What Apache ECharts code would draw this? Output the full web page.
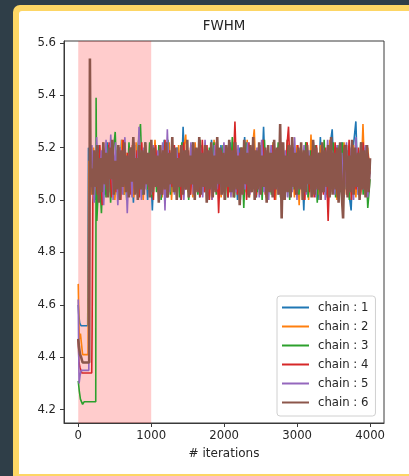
<!DOCTYPE html>
<html>
<head>
<meta charset="utf-8">
<script src="https://cdn.jsdelivr.net/npm/echarts@6/dist/echarts.min.js"></script>
<style>
  html, body { margin: 0; padding: 0; width: 409px; height: 476px; overflow: hidden; background: #2f3e48; }
  #chart { position: absolute; left: 0; top: 0; width: 409px; height: 476px; }
</style>
</head>
<body>
<div id="chart"></div>
<script>
// MCMC trace of the FWHM parameter, six chains, 4000 iterations each.
const chainNames = ['chain : 1', 'chain : 2', 'chain : 3', 'chain : 4', 'chain : 5', 'chain : 6'];
const chainColors = ['#1f77b4', '#ff7f0e', '#2ca02c', '#d62728', '#9467bd', '#8c564b'];
const burnInEnd = 1000;
const lastIteration = 3999;
const xTicks = [0, 1000, 2000, 3000, 4000];
const yTicks = [4.2, 4.4, 4.6, 4.8, 5.0, 5.2, 5.4, 5.6];

// Early walk of each chain: [iteration, value]
const burn1 = [[0, 4.60], [8, 4.56], [20, 4.53], [40, 4.52], [130, 4.52]];
const burn2 = [[0, 4.68], [8, 4.55], [15, 4.47], [30, 4.49], [45, 4.45], [60, 4.41], [135, 4.41]];
const burn3 = [[0, 4.31], [15, 4.27], [30, 4.24], [60, 4.22], [80, 4.23], [240, 4.23], [245, 5.39]];
const burn4 = [[0, 4.47], [10, 4.38], [25, 4.36], [50, 4.34], [185, 4.34], [190, 4.50]];
const burn5 = [[0, 4.62], [5, 4.45], [12, 4.30], [25, 4.33], [40, 4.35], [145, 4.35]];
const burn6 = [[0, 4.47], [10, 4.44], [25, 4.41], [40, 4.40], [60, 4.38], [150, 4.38], [160, 5.54], [170, 5.05]];

// Iteration where each thinned trace below begins (it runs on to the last iteration)
const traceStart = [140, 145, 255, 200, 155, 180];

// Thinned traces, evenly spaced over [traceStart, lastIteration]
const trace1 = [
  5.20, 5.03, 5.17, 5.00, 5.21, 5.05, 5.18, 5.02, 5.22, 5.04,
  5.19, 5.01, 5.16, 5.04, 5.23, 5.02, 5.18, 5.06, 5.20, 4.99,
  5.21, 5.03, 5.17, 5.05, 5.22, 5.00, 5.19, 4.96, 5.20, 5.04,
  5.18, 5.02, 5.23, 5.01, 5.17, 5.05, 5.21, 5.03, 5.19, 5.00,
  5.28, 5.04, 5.18, 5.02, 5.22, 5.06, 5.19, 5.01, 5.21, 5.03,
  5.17, 5.00, 5.23, 5.04, 5.19, 5.02, 5.21, 5.05, 5.18, 5.01,
  5.22, 5.03, 5.16, 5.00, 5.20, 5.04, 5.24, 5.02, 5.18, 5.05,
  5.21, 5.01, 5.19, 5.03, 5.28, 5.02, 5.17, 5.04, 5.22, 5.00,
  5.20, 5.05, 5.18, 5.02, 5.23, 5.01, 5.19, 5.04, 5.21, 5.03,
  5.17, 4.96, 5.22, 5.02, 5.19, 5.05, 5.21, 5.00, 5.24, 5.03,
  5.18, 5.01, 5.20, 5.27, 5.04, 5.19, 5.02, 5.22, 5.05, 5.17,
  5.03, 4.96, 5.21, 5.30, 5.02, 5.19, 5.04, 5.20, 5.01, 5.14
];
const trace2 = [
  5.15, 5.02, 5.20, 5.04, 5.18, 5.01, 5.22, 5.05, 5.17, 5.03,
  5.21, 5.00, 5.19, 5.04, 5.23, 5.02, 5.18, 5.05, 5.20, 5.01,
  5.22, 5.03, 5.17, 5.00, 5.21, 5.04, 5.19, 5.02, 5.23, 5.05,
  5.18, 5.01, 5.20, 5.03, 5.22, 5.00, 5.17, 5.04, 5.21, 5.02,
  5.19, 5.25, 5.03, 5.20, 5.01, 5.22, 5.05, 5.18, 5.02, 5.21,
  5.04, 5.17, 5.00, 5.23, 5.03, 5.19, 5.01, 5.21, 5.05, 5.18,
  5.02, 5.22, 5.04, 5.19, 4.99, 5.20, 5.03, 5.23, 5.01, 5.18,
  5.27, 5.02, 5.19, 5.05, 5.21, 5.01, 5.18, 5.03, 5.22, 5.00,
  5.20, 5.04, 5.17, 5.02, 5.23, 5.05, 5.19, 5.01, 5.21, 4.98,
  5.18, 5.03, 5.22, 5.00, 5.25, 5.04, 5.19, 5.02, 5.21, 5.05,
  5.17, 5.01, 5.23, 5.03, 5.20, 5.00, 5.18, 5.04, 5.22, 5.02,
  5.19, 5.05, 5.21, 5.01, 5.18, 5.03, 5.29, 5.02, 5.20, 5.10
];
const trace3 = [
  4.92, 5.12, 4.95, 5.18, 5.01, 5.21, 4.99, 5.17, 5.26, 5.02,
  5.20, 5.04, 5.18, 5.00, 5.22, 5.03, 5.19, 5.05, 5.21, 5.29,
  5.02, 5.18, 5.04, 5.22, 5.01, 5.19, 5.03, 5.21, 5.00, 5.17,
  5.05, 5.23, 5.02, 5.18, 5.04, 5.20, 5.01, 5.22, 5.03, 5.19,
  5.00, 5.21, 5.05, 5.17, 5.02, 5.23, 5.03, 5.19, 5.01, 5.20,
  5.04, 5.22, 5.02, 5.18, 5.05, 5.21, 5.00, 5.19, 5.03, 5.24,
  5.01, 5.18, 5.04, 5.20, 4.97, 5.22, 5.02, 5.19, 5.05, 5.17,
  5.03, 5.21, 5.00, 5.23, 5.04, 5.18, 5.02, 5.20, 5.05, 5.22,
  5.01, 5.19, 5.03, 5.21, 5.00, 5.24, 5.04, 5.18, 5.02, 5.20,
  5.05, 5.22, 5.01, 5.19, 5.03, 5.21, 4.99, 5.18, 5.04, 5.23,
  5.02, 5.20, 5.05, 5.22, 5.01, 5.21, 5.03, 5.22, 5.04, 5.19,
  5.00, 5.21, 5.03, 5.18, 5.05, 5.22, 5.02, 5.20, 4.97, 5.08
];
const trace4 = [
  4.99, 5.18, 5.02, 5.21, 4.98, 5.19, 5.04, 5.22, 5.01, 5.17,
  5.03, 5.20, 5.00, 5.23, 5.05, 5.18, 5.02, 5.21, 5.04, 5.19,
  5.01, 5.22, 5.03, 5.17, 5.05, 5.20, 5.00, 5.21, 5.04, 5.18,
  5.02, 5.23, 5.01, 5.19, 5.05, 5.21, 5.03, 5.18, 5.00, 5.22,
  5.04, 5.19, 5.02, 5.20, 5.05, 5.17, 5.01, 5.23, 5.03, 5.21,
  5.00, 5.18, 5.04, 5.22, 4.95, 5.19, 5.03, 5.21, 5.01, 5.20,
  5.05, 5.30, 5.02, 5.18, 5.04, 5.21, 5.00, 5.22, 5.03, 5.19,
  5.01, 5.20, 5.05, 5.23, 5.02, 5.18, 5.04, 5.21, 5.00, 5.19,
  5.03, 5.22, 5.01, 5.17, 5.28, 5.04, 5.20, 5.02, 5.21, 5.05,
  5.18, 5.00, 5.22, 5.03, 5.19, 5.01, 5.21, 5.04, 5.18, 5.02,
  5.20, 4.92, 5.19, 5.03, 5.22, 5.01, 5.18, 5.05, 5.21, 5.02,
  5.23, 5.00, 5.19, 5.04, 5.20, 5.02, 5.22, 5.05, 5.18, 5.12
];
const trace5 = [
  5.02, 5.21, 4.99, 5.24, 5.01, 5.19, 4.98, 5.23, 5.03, 5.25,
  5.00, 5.22, 4.98, 5.20, 5.02, 5.24, 4.95, 5.19, 5.01, 5.22,
  5.03, 5.28, 5.00, 5.20, 5.04, 5.18, 5.02, 5.21, 5.05, 5.19,
  5.01, 5.22, 4.96, 5.27, 5.03, 5.18, 5.02, 5.20, 5.05, 5.21,
  5.00, 5.19, 5.04, 5.22, 5.02, 5.18, 5.05, 5.20, 5.01, 5.23,
  5.03, 5.19, 5.00, 5.21, 5.04, 5.18, 5.02, 5.22, 5.05, 5.20,
  5.01, 5.17, 5.03, 5.21, 5.00, 5.19, 5.04, 5.22, 5.02, 5.18,
  5.05, 5.20, 5.01, 5.23, 5.03, 5.19, 5.00, 5.21, 5.04, 5.18,
  5.02, 5.22, 5.05, 5.19, 5.01, 5.20, 5.03, 5.24, 5.00, 5.18,
  5.04, 5.21, 5.02, 5.19, 5.05, 5.22, 5.01, 5.18, 5.03, 5.20,
  5.00, 5.23, 5.04, 5.19, 5.02, 5.21, 5.05, 5.18, 5.01, 5.22,
  5.03, 5.20, 5.00, 5.24, 5.02, 5.19, 5.04, 5.21, 5.01, 5.11
];
const trace6 = [
  5.12, 5.02, 5.19, 5.05, 5.21, 4.99, 5.16, 5.03, 5.22, 5.06,
  5.18, 5.01, 5.20, 5.08, 5.23, 5.02, 5.15, 5.04, 5.21, 5.00,
  5.19, 5.05, 5.22, 5.03, 5.17, 5.01, 5.20, 5.07, 5.24, 5.02,
  5.16, 5.00, 5.21, 5.04, 5.19, 5.02, 5.22, 5.06, 5.18, 5.01,
  5.23, 5.03, 5.20, 5.05, 5.17, 4.99, 5.21, 5.02, 5.19, 5.04,
  5.22, 5.01, 5.18, 5.06, 5.24, 5.03, 5.20, 5.00, 5.16, 5.05,
  5.21, 5.02, 5.19, 5.04, 5.23, 5.01, 5.17, 5.06, 5.22, 5.00,
  5.20, 5.03, 5.24, 5.02, 5.18, 5.05, 5.21, 4.99, 5.19, 5.04,
  5.22, 5.01, 5.17, 5.03, 5.24, 5.06, 5.20, 5.02, 5.18, 5.00,
  5.21, 5.05, 5.23, 5.03, 5.19, 5.01, 5.22, 5.04, 5.17, 4.98,
  5.20, 5.02, 5.23, 5.06, 5.18, 5.01, 5.21, 5.03, 5.24, 5.00,
  5.19, 5.04, 5.22, 5.02, 5.17, 5.05, 5.20, 4.99, 5.21, 5.03,
  5.18, 5.01, 5.23, 5.04, 5.20, 5.02, 5.29, 4.93, 5.22, 5.00,
  5.17, 5.03, 5.21, 5.01, 5.24, 5.05, 5.18, 5.02, 5.20, 5.04,
  5.22, 5.00, 5.19, 5.03, 5.21, 5.06, 5.17, 5.01, 5.23, 5.02,
  5.20, 5.04, 5.18, 5.00, 5.22, 5.03, 5.19, 5.05, 5.21, 5.01,
  5.24, 5.02, 5.18, 5.04, 5.20, 4.99, 5.22, 5.03, 4.93, 5.19,
  5.21, 5.01, 5.17, 5.03, 5.23, 5.02, 5.20, 5.05, 5.18, 5.00,
  5.22, 5.04, 5.19, 5.01, 5.21, 5.03, 5.16
];

const burns = [burn1, burn2, burn3, burn4, burn5, burn6];
const traces = [trace1, trace2, trace3, trace4, trace5, trace6];
// the last chain is drawn on top and is the one that fills the band
const lineWidths = [1.6, 1.6, 1.6, 1.6, 1.6, 2.6];

// Join the early walk with the thinned trace as [iteration, value] pairs
function chainPoints(k) {
  const tr = traces[k];
  const s = traceStart[k];
  const step = (lastIteration - s) / (tr.length - 1);
  return burns[k].concat(tr.map((v, i) => [s + i * step, v]));
}

const FONT = 'DejaVu Sans';
const textColor = '#262626';

const series = [{
  // shaded burn-in window
  type: 'line',
  data: [],
  silent: true,
  z: 1,
  markArea: {
    silent: true,
    itemStyle: { color: 'rgba(255, 0, 0, 0.2)' },
    data: [[{ xAxis: 0 }, { xAxis: burnInEnd }]]
  }
}];
chainNames.forEach((name, k) => {
  series.push({
    name: name,
    type: 'line',
    data: chainPoints(k),
    showSymbol: false,
    symbol: 'none',
    z: 2,
    lineStyle: { width: lineWidths[k], color: chainColors[k] },
    itemStyle: { color: chainColors[k] }
  });
});

const chart = echarts.init(document.getElementById('chart'), null, { renderer: 'canvas' });
chart.setOption({
  animation: false,
  backgroundColor: '#2f3e48',
  textStyle: { fontFamily: FONT },
  // page frame: yellow border with a white panel inside
  graphic: [
    { type: 'rect', z: -10, silent: true, shape: { x: 13, y: 5, width: 420, height: 480, r: [7, 0, 0, 0] }, style: { fill: '#fdd665' } },
    { type: 'rect', z: -9, silent: true, shape: { x: 19, y: 11, width: 420, height: 463, r: [3, 0, 0, 0] }, style: { fill: '#ffffff' } }
  ],
  title: {
    text: 'FWHM',
    left: 224,
    textAlign: 'center',
    top: 20,
    padding: 0,
    textStyle: { fontFamily: FONT, fontSize: 13.4, fontWeight: 'normal', color: textColor }
  },
  grid: {
    left: 64, right: 25, top: 41, bottom: 53,
    show: true, borderColor: '#3a3a3a', borderWidth: 1, backgroundColor: 'transparent'
  },
  legend: {
    data: chainNames,
    orient: 'vertical',
    left: 277,
    top: 296,
    padding: [5, 7, 7, 5],
    itemGap: 6,
    itemWidth: 27,
    itemHeight: 2,
    icon: 'rect',
    backgroundColor: 'rgba(255,255,255,0.85)',
    borderColor: '#d0d0d0',
    borderWidth: 1,
    borderRadius: 3,
    selectedMode: false,
    textStyle: { fontFamily: FONT, fontSize: 11.7, color: textColor, lineHeight: 13, padding: [0, 0, 0, 4] }
  },
  xAxis: {
    type: 'value',
    min: -195,
    max: 4190,
    splitLine: { show: false },
    axisLine: { show: true, onZero: false, lineStyle: { color: '#3a3a3a', width: 1 } },
    axisTick: { show: true, length: 4, lineStyle: { color: '#3a3a3a' }, customValues: xTicks },
    axisLabel: {
      customValues: xTicks, fontFamily: FONT, fontSize: 11.7, color: textColor, margin: 7,
      formatter: v => String(Math.round(v))
    },
    name: '# iterations',
    nameLocation: 'middle',
    nameGap: 25,
    nameTextStyle: { fontFamily: FONT, fontSize: 12, color: textColor }
  },
  yAxis: {
    type: 'value',
    min: 4.149,
    max: 5.607,
    splitLine: { show: false },
    axisLine: { show: true, onZero: false, lineStyle: { color: '#3a3a3a', width: 1 } },
    axisTick: { show: true, length: 4, lineStyle: { color: '#3a3a3a' }, customValues: yTicks },
    axisLabel: {
      customValues: yTicks,
      fontFamily: FONT, fontSize: 11.7, color: textColor, margin: 8,
      formatter: v => v.toFixed(1)
    }
  },
  series: series
});
</script>
</body>
</html>
